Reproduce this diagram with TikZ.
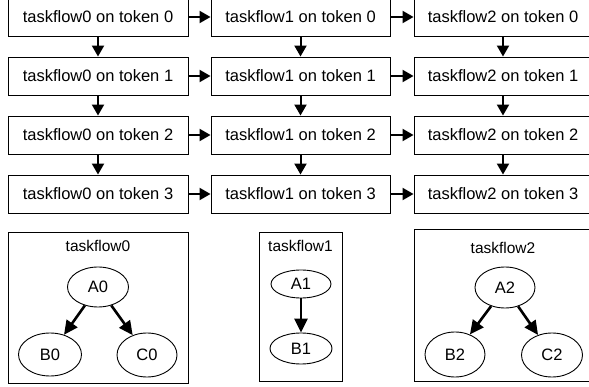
\documentclass[tikz,border=0pt]{standalone}
\usepackage{fontspec}
\setmainfont{Liberation Sans}
\usetikzlibrary{arrows.meta,shapes.geometric}
\begin{document}
\begin{tikzpicture}[x=1pt,y=-1pt,
 tbox/.style={draw,line width=0.9pt,minimum height=38pt,inner sep=0pt,font=\fontsize{16.5}{18}\selectfont},
 flow/.style={-{Triangle[length=11pt,width=12pt]},line width=2pt},
 gbox/.style={draw,line width=0.9pt,inner sep=0pt},
 tnode/.style={draw,ellipse,line width=0.9pt,inner sep=0pt,font=\fontsize{16.5}{18}\selectfont},
 dep/.style={-{Triangle[length=14pt,width=13pt]},line width=2.6pt},
 glabel/.style={inner sep=0pt,font=\fontsize{15.5}{17}\selectfont}]
\useasboundingbox (0,0) rectangle (589,387);
\clip (0,0) rectangle (589,387);
% token grid
\foreach \r/\y in {0/17,1/76,2/135,3/194}{
  \node[tbox,minimum width=180pt] (t0r\r) at (98,\y) {taskflow0 on token \r};
  \node[tbox,minimum width=179pt] (t1r\r) at (300.5,\y) {taskflow1 on token \r};
  \node[tbox,minimum width=178pt] (t2r\r) at (503,\y) {taskflow2 on token \r};
}
\foreach \r in {0,...,3}{
  \draw[flow] (t0r\r) -- (t1r\r);
  \draw[flow] (t1r\r) -- (t2r\r);
}
\foreach \r/\s in {0/1,1/2,2/3}{
  \foreach \c in {0,1,2}{
    \draw[flow] (t\c r\r) -- (t\c r\s);
  }
}
% taskflow graphs
\node[gbox,minimum width=180pt,minimum height=151pt] (g0) at (98,307.5) {};
\node[gbox,minimum width=83pt,minimum height=149pt] (g1) at (300.5,306.5) {};
\node[gbox,minimum width=178pt,minimum height=152pt] (g2) at (503,305) {};
\node[glabel] (l0) at (98,246) {taskflow0};
\node[glabel] (l1) at (300.5,246) {taskflow1};
\node[glabel] (l2) at (503,248) {taskflow2};
\node[tnode,minimum width=61pt,minimum height=40pt] (A0) at (98,287) {A0};
\node[tnode,minimum width=63pt,minimum height=43pt] (B0) at (50,354.5) {B0};
\node[tnode,minimum width=60pt,minimum height=44pt] (C0) at (147,355) {C0};
\node[tnode,minimum width=60pt,minimum height=28pt] (A1) at (301,284) {A1};
\node[tnode,minimum width=62pt,minimum height=31pt] (B1) at (301,348.5) {B1};
\node[tnode,minimum width=60pt,minimum height=41pt] (A2) at (505,287.5) {A2};
\node[tnode,minimum width=60pt,minimum height=45pt] (B2) at (455,354.5) {B2};
\node[tnode,minimum width=61pt,minimum height=44pt] (C2) at (552,355) {C2};
\draw[dep] (A0) -- (B0);
\draw[dep] (A0) -- (C0);
\draw[dep] (A1) -- (B1);
\draw[dep] (A2) -- (B2);
\draw[dep] (A2) -- (C2);
\end{tikzpicture}
\end{document}
